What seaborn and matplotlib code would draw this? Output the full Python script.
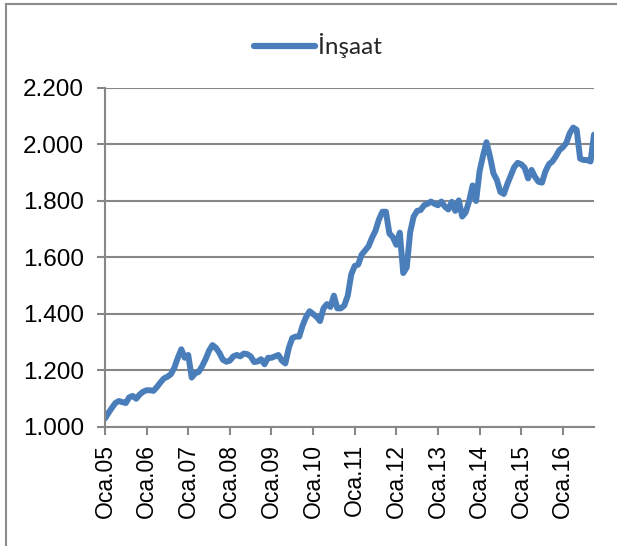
import matplotlib
matplotlib.use("Agg")
import matplotlib.pyplot as plt
import matplotlib.patches as mpatches
import seaborn as sns
import pandas as pd
import numpy as np

# ---- data (monthly index, Jan 2005 - Oct 2016) ----
series_name = "İnşaat"
values = [
    1030, 1050, 1068, 1085, 1092, 1088, 1085, 1105, 1110, 1100, 1115, 1125,
    1130, 1130, 1128, 1142, 1158, 1172, 1178, 1187, 1210, 1245, 1275, 1245,
    1255, 1175, 1190, 1195, 1215, 1240, 1270, 1290, 1280, 1262, 1238, 1231,
    1235, 1250, 1255, 1250, 1260, 1258, 1250, 1230, 1232, 1240, 1222, 1245,
    1245, 1250, 1255, 1235, 1225, 1280, 1315, 1320, 1320, 1360, 1390, 1410,
    1400, 1390, 1375, 1420, 1435, 1425, 1465, 1420, 1420, 1430, 1465, 1540,
    1570, 1575, 1610, 1625, 1640, 1670, 1695, 1735, 1762, 1762, 1685, 1672,
    1645, 1688, 1545, 1565, 1690, 1745, 1765, 1768, 1785, 1790, 1798, 1790,
    1785, 1798, 1780, 1770, 1797, 1765, 1802, 1745, 1760, 1800, 1855, 1800,
    1905, 1960, 2008, 1958, 1898, 1874, 1832, 1825, 1860, 1890, 1920, 1935,
    1930, 1918, 1880, 1910, 1885, 1868, 1865, 1905, 1930, 1940, 1958, 1980,
    1990, 2005, 2040, 2060, 2052, 1950, 1945, 1945, 1940, 2035,
]
tick_labels = ["Oca.05", "Oca.06", "Oca.07", "Oca.08", "Oca.09", "Oca.10",
               "Oca.11", "Oca.12", "Oca.13", "Oca.14", "Oca.15", "Oca.16"]
y_ticks = [1000, 1200, 1400, 1600, 1800, 2000, 2200]
y_tick_labels = ["1.000", "1.200", "1.400", "1.600", "1.800", "2.000", "2.200"]

df = pd.DataFrame({"month": np.arange(len(values)), "value": values, "series": series_name})

sns.set_style("white")
plt.rcParams["font.family"] = ["Liberation Sans", "DejaVu Sans"]

W, H = 617, 546
fig = plt.figure(figsize=(W / 100, H / 100), dpi=100)
ax = fig.add_axes([105 / W, 1 - 427 / H, (594 - 105) / W, (427 - 88) / H])

grid_col = "#878787"
line_col = "#4a7ebb"

sns.lineplot(data=df, x="month", y="value", hue="series", palette=[line_col],
             ax=ax, linewidth=4.3, legend=False)
for ln in ax.lines:
    ln.set_solid_joinstyle("round")
    ln.set_solid_capstyle("round")

ax.set_xlim(0, len(values) - 1)
ax.set_ylim(1000, 2200)
ax.set_yticks(y_ticks)
ax.set_yticklabels(y_tick_labels, fontsize=17.5)
ax.set_xticks(np.arange(len(tick_labels)) * 12)
ax.set_xticklabels(tick_labels, rotation=90, fontsize=16.5)
ax.set_xlabel("")
ax.set_ylabel("")

ax.yaxis.grid(True, color=grid_col, linewidth=1.5)
ax.set_axisbelow(True)
for side in ["top", "right"]:
    ax.spines[side].set_visible(False)
for side in ["left", "bottom"]:
    ax.spines[side].set_color(grid_col)
    ax.spines[side].set_linewidth(1.5)
ax.tick_params(axis="both", which="both", direction="out", length=6, width=1.5,
               color=grid_col, labelcolor="black", left=True, bottom=True)
ax.tick_params(axis="y", pad=9)
ax.tick_params(axis="x", pad=6)

# legend
handle = plt.Line2D([], [], color=line_col, linewidth=4.5, solid_capstyle="round")
fig.legend([handle], [series_name], loc="center", bbox_to_anchor=(318 / W, 1 - 46 / H),
           frameon=False, handlelength=2.5, handletextpad=0.1,
           prop={"family": "Lato", "size": 17.5})

# outer chart-area border (left and top visible)
fig.add_artist(mpatches.Rectangle((6 / W, -0.05), 1.1, 1.05 - 4 / H,
                                  transform=fig.transFigure, fill=False,
                                  edgecolor="#8c8c8c", linewidth=1.5))

fig.savefig("out.png", dpi=100)
